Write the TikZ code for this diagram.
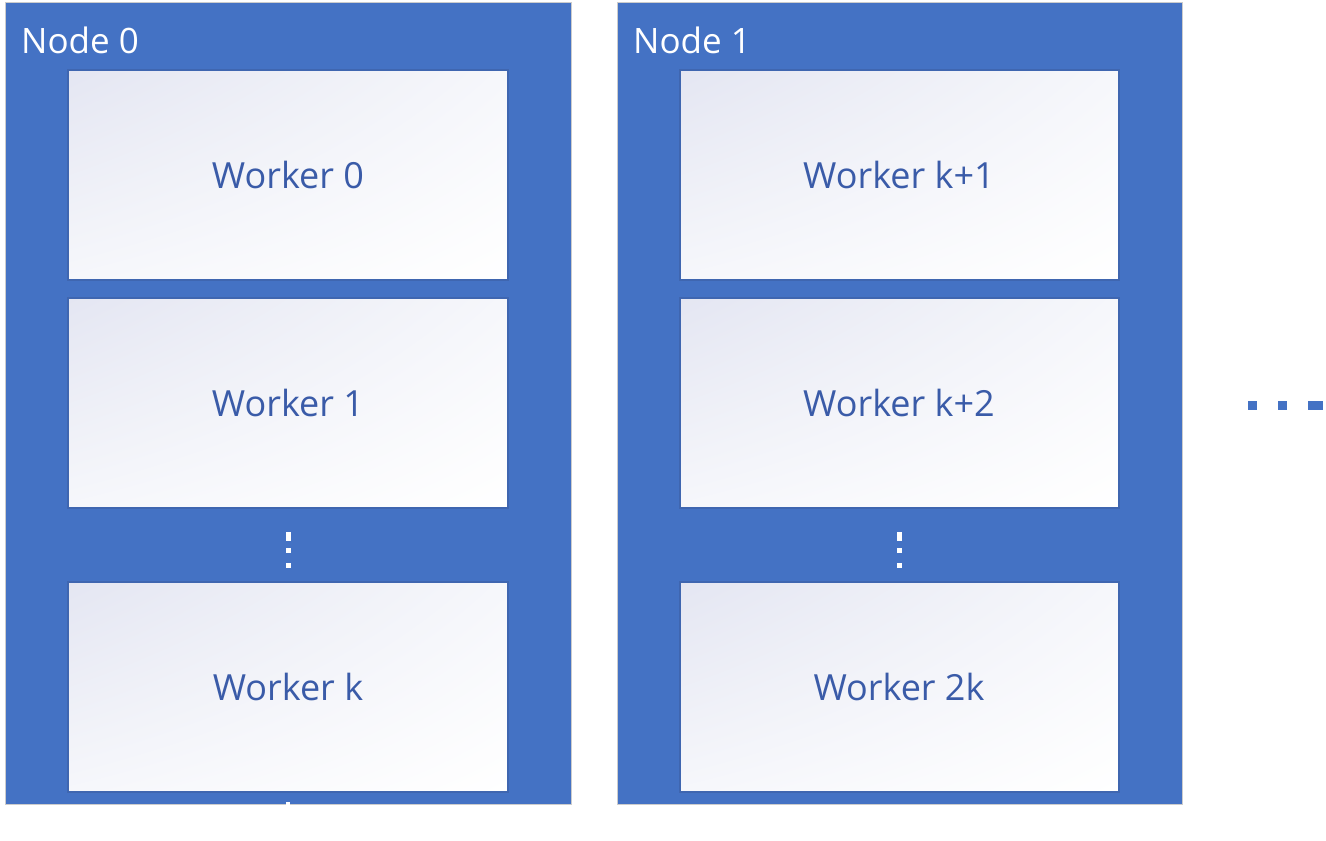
\documentclass[tikz,border=0pt]{standalone}
\usepackage{fontspec}
\setmainfont{Open Sans}
\usetikzlibrary{shadings}
\definecolor{nodeblue}{HTML}{4472C4}
\definecolor{workerborder}{HTML}{3F66B0}
\definecolor{workertext}{HTML}{3A5BA8}
\definecolor{lav}{HTML}{E4E6F2}
\definecolor{lavmid}{HTML}{F6F7FB}
\tikzset{
  nodebox/.style={fill=nodeblue, draw=black!20, line width=1pt},
  workerbox/.style={draw=workerborder, line width=1.5pt, upper left=lav, upper right=lavmid, lower left=lavmid, lower right=white},
  nodelabel/.style={text=white, font=\fontsize{35}{37}\selectfont, anchor=base west, inner sep=0pt},
  workerlabel/.style={text=workertext, font=\fontsize{36}{38}\selectfont, inner sep=0pt},
  dotsq/.style={fill=white, draw=none},
  hdot/.style={fill=nodeblue, draw=none}
}
\begin{document}
\begin{tikzpicture}[x=1pt,y=-1pt]
\useasboundingbox (0,0) rectangle (1326,841);
% Node 0
\draw[nodebox] (5,2) rectangle (571,804);
\node[nodelabel] (n0) at (21,53) {Node 0};
\draw[workerbox] (68,70) rectangle (508,280);
\node[workerlabel] (w0) at (288,175) {Worker 0};
\draw[workerbox] (68,298) rectangle (508,508);
\node[workerlabel] (w1) at (288,403) {Worker 1};
\draw[workerbox] (68,582) rectangle (508,792);
\node[workerlabel] (wk) at (288,687) {Worker k};
\fill[dotsq] (286,532) rectangle (291,541);
\fill[dotsq] (286,548) rectangle (291,553);
\fill[dotsq] (286,563) rectangle (291,568);
\fill[dotsq] (286,802) rectangle (290,805);
% Node 1
\draw[nodebox] (617,2) rectangle (1182,804);
\node[nodelabel] (n1) at (633,53) {Node 1};
\draw[workerbox] (680,70) rectangle (1119,280);
\node[workerlabel] (w2) at (899,175) {Worker k+1};
\draw[workerbox] (680,298) rectangle (1119,508);
\node[workerlabel] (w3) at (899,403) {Worker k+2};
\draw[workerbox] (680,582) rectangle (1119,792);
\node[workerlabel] (w4) at (899,687) {Worker 2k};
\fill[dotsq] (897,532) rectangle (902,541);
\fill[dotsq] (897,548) rectangle (902,553);
\fill[dotsq] (897,563) rectangle (902,568);
% horizontal dots
\fill[hdot] (1248,401) rectangle (1257,410);
\fill[hdot] (1278,401) rectangle (1287,410);
\fill[hdot] (1308,401) rectangle (1323,410);
\end{tikzpicture}
\end{document}
